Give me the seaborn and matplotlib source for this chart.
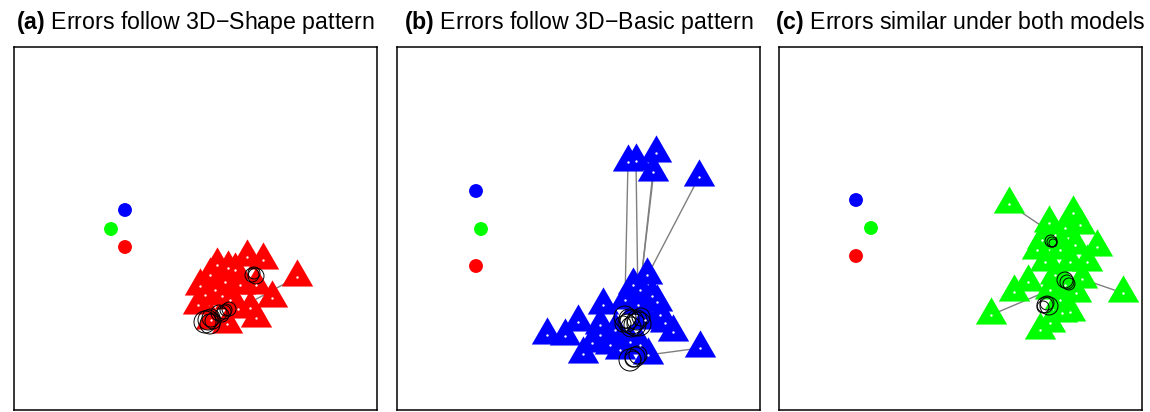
import matplotlib
matplotlib.use('Agg')  # headless

import matplotlib.pyplot as plt
from matplotlib.path import Path
from matplotlib.markers import MarkerStyle
from matplotlib.patches import Circle
import seaborn as sns
import pandas as pd

# titles
panel_tags = ["(a)", "(b)", "(c)"]
panel_titles = ["Errors follow 3D\u2212Shape pattern",
                "Errors follow 3D\u2212Basic pattern",
                "Errors similar under both models"]
tri_colors = ["#FF0000", "#0000FF", "#00FF00"]

# reference nodes (blue, green, red), layout coords inside each 363x363 box
ref_colors = ["#0000FF", "#00FF00", "#FF0000"]
ref_x_a = [111, 97, 111]
ref_y_a = [163, 182, 200]
ref_x_b = [79, 84, 79]
ref_y_b = [144, 182, 219]
ref_x_c = [77, 92, 77]
ref_y_c = [153, 181, 209]

# error nodes (triangles)
tri_x_a = [233, 249, 283, 242, 258, 236, 242, 213, 197, 184, 224,
           203, 214, 221, 186, 191, 201, 211, 226, 216, 196, 208]
tri_y_a = [210, 213, 230, 238, 251, 261, 271, 277, 273, 258, 262,
           218, 221, 223, 239, 248, 243, 235, 238, 253, 228, 249]
tri_x_b = [231, 239, 259, 256, 302, 250, 206, 181, 150, 168, 276,
           268, 303, 251, 186, 195, 236, 243, 255, 260, 241, 228,
           263, 218, 203, 233, 213, 223, 243, 203, 248]
tri_y_b = [115, 114, 106, 125, 130, 228, 258, 275, 288, 289, 285,
           276, 301, 308, 307, 296, 238, 243, 249, 255, 258, 253,
           268, 283, 288, 295, 298, 303, 298, 278, 273]
tri_x_c = [230, 270, 294, 318, 258, 249, 235, 212, 344, 303, 297,
           291, 283, 271, 261, 308, 276, 286, 301, 281, 266, 291,
           276, 271, 286, 263, 281, 296]
tri_y_c = [157, 176, 166, 200, 203, 235, 245, 268, 246, 232, 246,
           265, 266, 276, 283, 215, 188, 181, 178, 203, 215, 215,
           228, 243, 238, 193, 253, 198]

# straight edges between triangles (index pairs)
edges_a = [(2, 10)]
edges_b = [(0, 21), (1, 20), (2, 17), (3, 17), (4, 17), (12, 13)]
edges_c = [(0, 16), (8, 9), (7, 23)]

# self loops (x, y, radius)
loops_a = [(194, 273, 10), (197, 271, 9), (191, 275, 11), (199, 274, 8),
           (196, 277, 10), (205, 266, 8), (208, 268, 7),
           (238, 228, 7), (240, 226, 6), (242, 229, 8),
           (210, 265, 7), (212, 263, 6), (215, 262, 7)]
loops_b = [(235, 275, 12), (232, 272, 10), (238, 278, 11), (230, 276, 9),
           (240, 273, 10), (228, 270, 11), (242, 277, 12), (234, 280, 10),
           (226, 277, 8), (244, 270, 9),
           (238, 310, 10), (236, 312, 8), (241, 308, 9), (233, 313, 11)]
loops_c = [(273, 195, 5), (274, 196, 4), (272, 194, 6),
           (288, 235, 7), (290, 237, 6), (286, 233, 8),
           (266, 258, 8), (268, 256, 7), (264, 260, 6), (270, 259, 9)]

panels = [
    (ref_x_a, ref_y_a, tri_x_a, tri_y_a, edges_a, loops_a),
    (ref_x_b, ref_y_b, tri_x_b, tri_y_b, edges_b, loops_b),
    (ref_x_c, ref_y_c, tri_x_c, tri_y_c, edges_c, loops_c),
]

sns.set_style("white")
plt.rcParams['font.family'] = ['Liberation Sans', 'DejaVu Sans']
plt.rcParams['mathtext.fontset'] = 'custom'
plt.rcParams['mathtext.rm'] = 'Liberation Sans'
plt.rcParams['mathtext.bf'] = 'Liberation Sans:bold'

# equilateral triangle centred on its centroid
tri_marker = MarkerStyle(Path([(0, 1.155), (-1, -0.577), (1, -0.577), (0, 1.155)],
                              closed=True))

fig = plt.figure(figsize=(11.5, 4.12), dpi=100)
box_left = [14, 397, 779]
W, H = 1150, 412

for i, (rx, ry, tx, ty, edges, loops) in enumerate(panels):
    ax = fig.add_axes([box_left[i] / W, 2 / H, 363 / W, 363 / H])
    ax.set_xlim(0, 363)
    ax.set_ylim(363, 0)

    for a, b in edges:
        ax.plot([tx[a], tx[b]], [ty[a], ty[b]], color="#7f7f7f", lw=1.0, zorder=1)
    # loops sit over the crowded vertices, as in the igraph output
    for (lx, ly, lr) in loops:
        ax.add_patch(Circle((lx, ly), lr, fill=False, ec="black", lw=0.7, zorder=2.5))

    tri_df = pd.DataFrame({"x": tx, "y": ty})
    sns.scatterplot(data=tri_df, x="x", y="y", marker=tri_marker, s=680,
                    color=tri_colors[i], linewidth=0, ax=ax, zorder=2, legend=False)
    sns.scatterplot(data=tri_df, x="x", y="y", marker="o", s=3,
                    color="white", linewidth=0, ax=ax, zorder=3, legend=False)

    ref_df = pd.DataFrame({"x": rx, "y": ry, "c": ref_colors})
    sns.scatterplot(data=ref_df, x="x", y="y", hue="c", palette=ref_colors,
                    hue_order=ref_colors, marker="o", s=100, linewidth=0,
                    ax=ax, zorder=2, legend=False)

    ax.set_xticks([])
    ax.set_yticks([])
    ax.set_xlabel("")
    ax.set_ylabel("")
    for sp in ax.spines.values():
        sp.set_visible(True)
        sp.set_color("black")
        sp.set_linewidth(1.1)
    ax.set_title(r"$\mathbf{" + panel_tags[i] + "}$ " + panel_titles[i],
                 fontsize=16.7, pad=13, color="black")

fig.savefig("out.png", dpi=100, facecolor="white")
